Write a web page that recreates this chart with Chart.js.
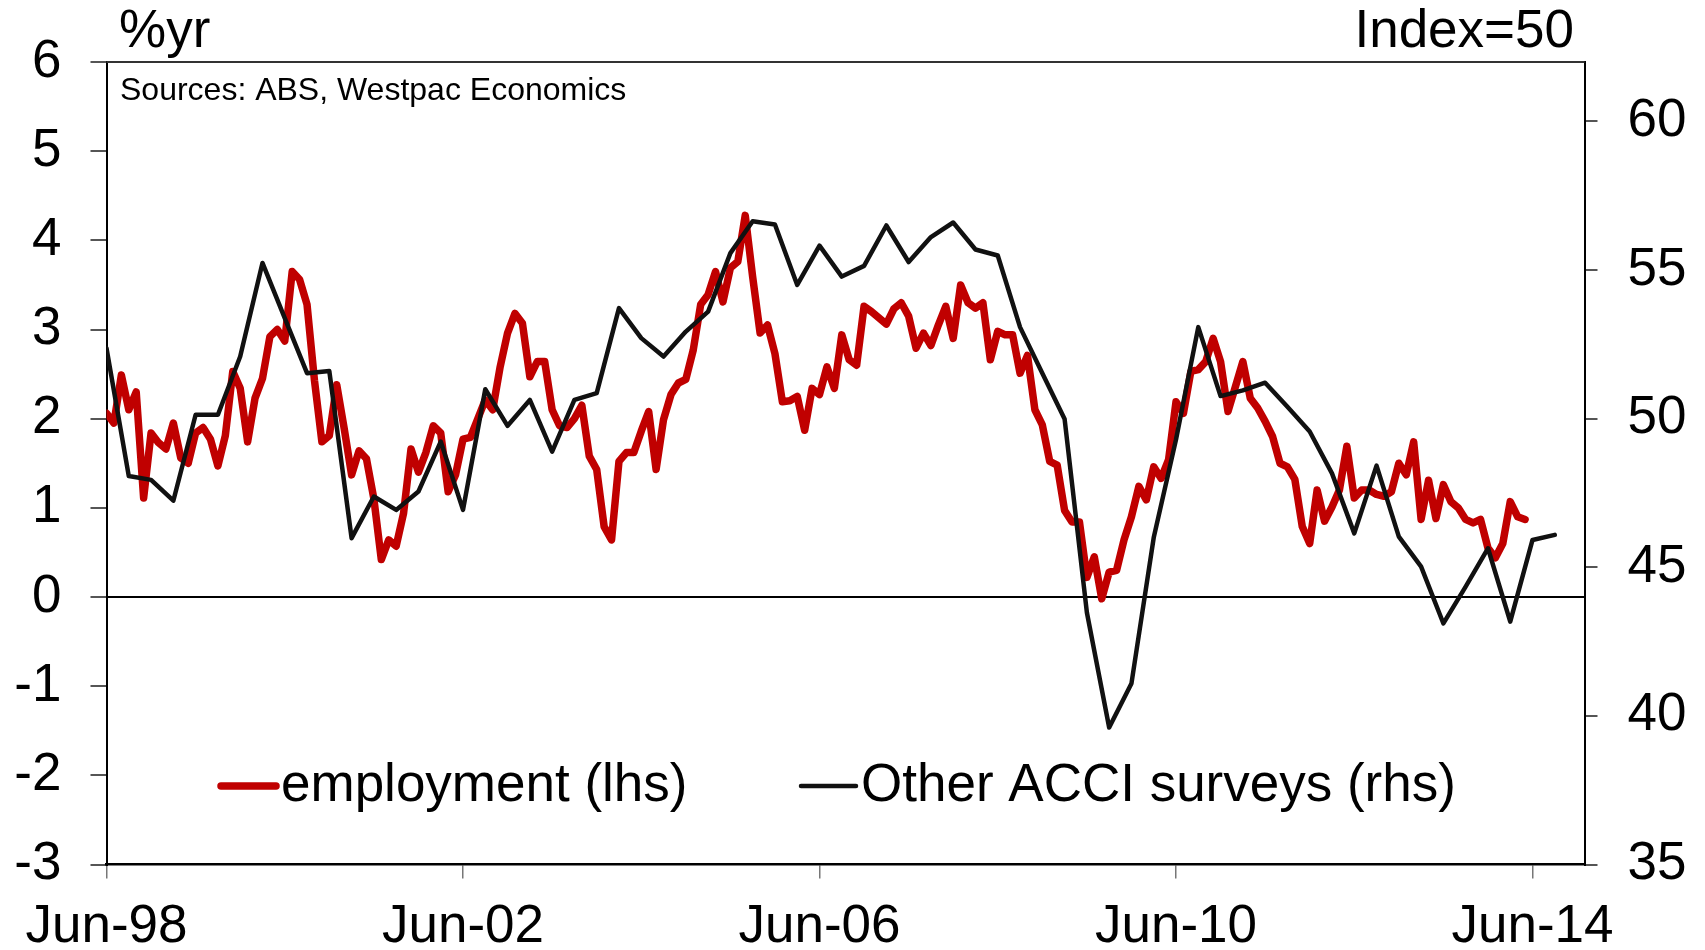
<!DOCTYPE html>
<html>
<head>
<meta charset="utf-8">
<script src="https://cdn.jsdelivr.net/npm/chart.js@4.4.1/dist/chart.umd.min.js"></script>
<style>
	html, body { margin: 0; padding: 0; background: #fff; }
	canvas { display: block; }
</style>
</head>
<body>
<canvas id="chart" width="1705" height="950"></canvas>
<script>
const tickLabels = ["Jun-98", "Jun-02", "Jun-06", "Jun-10", "Jun-14"];
const rightTicks = [35, 40, 45, 50, 55, 60];

// employment, %yr, monthly from Jun-98 to May-14
const employment = [
	2.06, 1.95, 2.49, 2.1, 2.3, 1.11, 1.84, 1.73, 1.66, 1.95,
	1.56, 1.5, 1.84, 1.9, 1.77, 1.47, 1.81, 2.53, 2.34, 1.74,
	2.23, 2.45, 2.92, 3.0, 2.87, 3.65, 3.56, 3.28, 2.43, 1.74,
	1.81, 2.38, 1.89, 1.37, 1.64, 1.55, 1.1, 0.42, 0.64, 0.57,
	0.94, 1.66, 1.4, 1.62, 1.92, 1.84, 1.18, 1.37, 1.77, 1.79,
	2.0, 2.21, 2.1, 2.58, 2.96, 3.18, 3.07, 2.47, 2.64, 2.64,
	2.1, 1.92, 1.9, 2.0, 2.15, 1.58, 1.43, 0.79, 0.64, 1.52,
	1.62, 1.62, 1.86, 2.08, 1.43, 1.99, 2.27, 2.4, 2.44, 2.77,
	3.28, 3.39, 3.65, 3.31, 3.69, 3.76, 4.28, 3.59, 2.96, 3.05,
	2.73, 2.19, 2.2, 2.25, 1.87, 2.34, 2.27, 2.58, 2.34, 2.94,
	2.66, 2.6, 3.26, 3.2, 3.13, 3.06, 3.23, 3.3, 3.15, 2.79,
	2.96, 2.82, 3.05, 3.26, 2.9, 3.5, 3.3, 3.24, 3.3, 2.66,
	2.98, 2.94, 2.94, 2.51, 2.71, 2.1, 1.93, 1.52, 1.48, 0.97,
	0.84, 0.84, 0.22, 0.45, -0.02, 0.28, 0.3, 0.64, 0.9, 1.24,
	1.09, 1.46, 1.33, 1.54, 2.19, 2.06, 2.53, 2.55, 2.64, 2.9,
	2.64, 2.08, 2.36, 2.64, 2.23, 2.12, 1.97, 1.8, 1.5, 1.46,
	1.32, 0.79, 0.6, 1.2, 0.85, 1.01, 1.2, 1.69, 1.11, 1.2,
	1.2, 1.15, 1.13, 1.18, 1.5, 1.37, 1.74, 0.87, 1.31, 0.88,
	1.26, 1.07, 1.0, 0.87, 0.83, 0.87, 0.55, 0.44, 0.6, 1.07,
	0.9, 0.87,
];

// other ACCI surveys, index, quarterly from Jun-98 to Sep-14
const acci = [
	52.37, 48.07, 47.94, 47.24, 50.13, 50.13, 52.09, 55.24, 53.38, 51.53,
	51.6, 45.98, 47.38, 46.93, 47.55, 49.23, 46.93, 50.99, 49.76, 50.63,
	48.89, 50.63, 50.86, 53.72, 52.71, 52.09, 52.93, 53.6, 55.57, 56.64,
	56.53, 54.5, 55.82, 54.78, 55.14, 56.5, 55.27, 56.11, 56.6, 55.69,
	55.49, 53.08, 51.53, 49.99, 43.48, 39.61, 41.09, 46.0, 49.3, 53.08,
	50.76, 50.95, 51.21, 50.4, 49.57, 48.16, 46.14, 48.42, 46.03, 45.02,
	43.11, 44.35, 45.64, 43.17, 45.92, 46.09,
];

const font = "Liberation Sans";
const big = 53;
Chart.defaults.font.family = font;
Chart.defaults.color = "#000";

const red = "#c00000";
const black = "#111111";

// titles, source note, legend and the top edge of the frame
const extras = {
	id: "extras",
	afterDraw(chart) {
		const { ctx, chartArea } = chart;
		ctx.save();
		ctx.strokeStyle = "#333";
		ctx.lineWidth = 2;
		ctx.beginPath();
		ctx.moveTo(chartArea.left, chartArea.top);
		ctx.lineTo(chartArea.right, chartArea.top);
		ctx.stroke();

		ctx.fillStyle = "#000";
		ctx.textBaseline = "middle";
		ctx.font = `${big}px ${font}`;
		ctx.textAlign = "left";
		ctx.fillText("%yr", 119, 32);
		ctx.textAlign = "right";
		ctx.fillText("Index=50", 1574, 32);

		ctx.textAlign = "left";
		ctx.font = `32px ${font}`;
		ctx.fillText("Sources: ABS, Westpac Economics", 120, 91);

		ctx.font = `${big}px ${font}`;
		const spots = [221, 801];
		chart.data.datasets.forEach((ds, i) => {
			const x = spots[i];
			const y = 786;
			ctx.strokeStyle = ds.borderColor;
			ctx.lineWidth = ds.borderWidth;
			ctx.lineCap = "round";
			ctx.beginPath();
			ctx.moveTo(x, y);
			ctx.lineTo(x + 55, y);
			ctx.stroke();
			ctx.fillText(ds.label, x + 60, y);
		});
		ctx.restore();
	},
};

const config = {
	type: "line",
	plugins: [extras],
	data: {
		datasets: [
			{
				label: "employment (lhs)",
				data: employment.map((v, i) => ({ x: i, y: v })),
				borderColor: red,
				borderWidth: 7.5,
				yAxisID: "y",
				order: 2,
			},
			{
				label: "Other ACCI surveys (rhs)",
				data: acci.map((v, i) => ({ x: i * 3, y: v })),
				borderColor: black,
				borderWidth: 4.5,
				yAxisID: "y1",
				order: 1,
			},
		],
	},
	options: {
		responsive: false,
		animation: false,
		layout: { padding: { top: 62, left: 0, right: 0, bottom: 0 } },
		elements: {
			point: { radius: 0 },
			line: { tension: 0, borderJoinStyle: "round", borderCapStyle: "round" },
		},
		plugins: {
			legend: { display: false },
			tooltip: { enabled: false },
		},
		scales: {
			x: {
				type: "linear",
				min: 0,
				max: 199,
				afterBuildTicks: scale => {
					scale.ticks = tickLabels.map((_, i) => ({ value: i * 48 }));
				},
				afterFit: scale => {
					scale.height = 85.5;
				},
				border: { color: "#000", width: 2.5 },
				grid: { drawOnChartArea: false, tickLength: 14, tickColor: "#777", lineWidth: 1.5 },
				ticks: {
					callback: v => tickLabels[v / 48],
					font: { size: big },
					padding: 17,
					maxRotation: 0,
					autoSkip: false,
				},
			},
			y: {
				position: "left",
				min: -3,
				max: 6,
				afterFit: scale => {
					scale.width = 106.5;
				},
				border: { color: "#000", width: 2 },
				grid: {
					color: ctx => (ctx.tick.value === 0 ? "#000" : "rgba(0,0,0,0)"),
					tickColor: "#555",
					tickLength: 16,
					lineWidth: 2,
				},
				ticks: { stepSize: 1, font: { size: big }, padding: 29 },
			},
			y1: {
				position: "right",
				min: 35,
				max: 62,
				afterBuildTicks: scale => {
					scale.ticks = rightTicks.map(v => ({ value: v }));
				},
				afterFit: scale => {
					scale.width = 120.5;
				},
				border: { color: "#000", width: 2 },
				grid: { drawOnChartArea: false, tickColor: "#555", tickLength: 13, lineWidth: 2 },
				ticks: { font: { size: big }, padding: 30 },
			},
		},
	},
};

new Chart(document.getElementById("chart"), config);
</script>
</body>
</html>
